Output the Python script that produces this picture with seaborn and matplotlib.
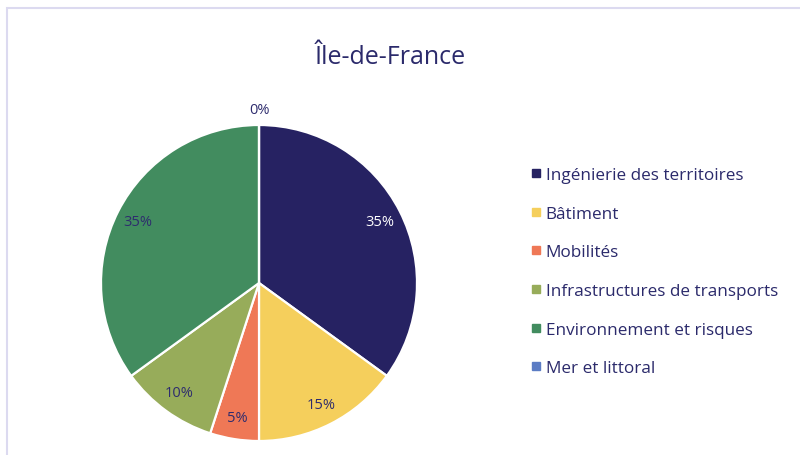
import numpy as np
import matplotlib.pyplot as plt
import seaborn as sns
from matplotlib.lines import Line2D
from matplotlib.patches import Rectangle

sns.set_theme(style="white")
plt.rcParams["font.family"] = ["Open Sans", "DejaVu Sans"]

# data
title = "Île-de-France"
categories = ["Ingénierie des territoires", "Bâtiment", "Mobilités",
              "Infrastructures de transports", "Environnement et risques",
              "Mer et littoral"]
shares = [35, 15, 5, 10, 35, 0]
colors = ["#262262", "#F5CF5C", "#EF7856", "#97AC5A", "#428C5F", "#5B7CC4"]
label_colors = ["white", "#2E2C6E", "#2E2C6E", "#2E2C6E", "#2E2C6E", "#2E2C6E"]

navy = "#2B2A6B"
W, H = 800, 456
fig = plt.figure(figsize=(W / 100, H / 100), dpi=100)

# light frame around the chart area
fig.patches.append(Rectangle((7 / W, -0.05), 1.1, 1 - 9 / H + 0.05,
                             transform=fig.transFigure, fill=False,
                             edgecolor="#DCDAF0", lw=1.5))

# pie axes: centre (259, 284) px, radius 158 px
cx, cy, r = 259, 284, 158
ax = fig.add_axes([(cx - r) / W, (H - cy - r) / H, 2 * r / W, 2 * r / H])
wedges, texts, autotexts = ax.pie(
    shares, colors=colors, startangle=90, counterclock=False,
    autopct="%1.0f%%", pctdistance=0.86, radius=1,
    wedgeprops=dict(edgecolor="white", linewidth=1.6),
    textprops=dict(fontsize=10.5))
for t, c, v in zip(autotexts, label_colors, shares):
    t.set_color(c)
    if v == 0:
        x, y = t.get_position()
        t.set_position((x / 0.86 * 1.1, y / 0.86 * 1.1))
ax.set_xlim(-1, 1)
ax.set_ylim(-1, 1)
ax.set_aspect("equal")
ax.axis("off")

fig.text(390 / W, 1 - 57 / H, title, ha="center", va="center",
         fontsize=18, color=navy)

handles = [Line2D([], [], marker="s", linestyle="none", markersize=6,
                  markerfacecolor=c, markeredgecolor=c) for c in colors]
fig.legend(handles, categories, loc="upper left",
           bbox_to_anchor=(525 / W, 1 - 161 / H), frameon=False,
           fontsize=12.3, labelcolor=navy, handlelength=0.5,
           handletextpad=0.3, labelspacing=1.33, borderaxespad=0)

fig.savefig("out.png", dpi=100, facecolor="white")
